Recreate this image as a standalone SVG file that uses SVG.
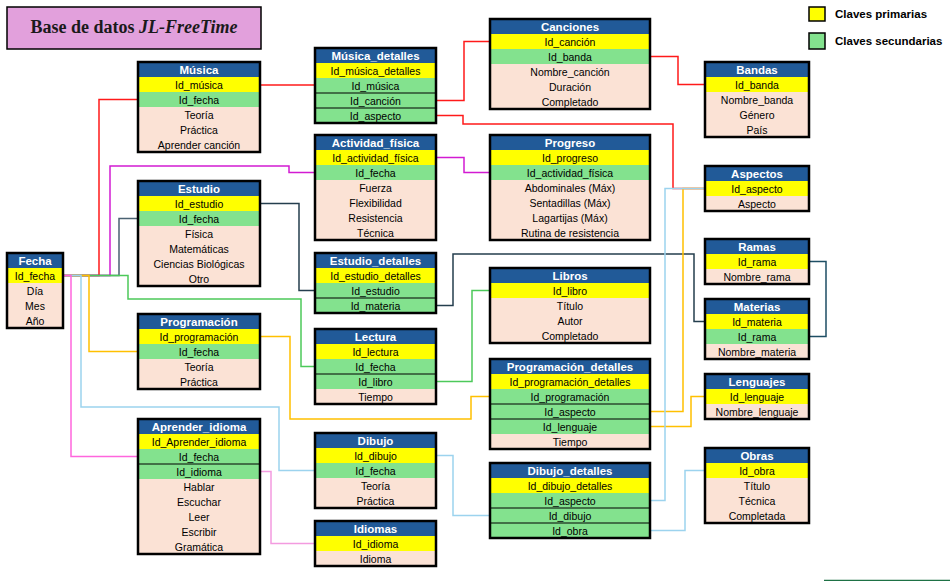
<svg xmlns="http://www.w3.org/2000/svg" width="952" height="581" viewBox="0 0 952 581">
<style>
.hd{fill:#215A98}
.pk{fill:#FFFF00}
.fk{fill:#83E28E}
.at{fill:#FBE2D5}
.fr{fill:none;stroke:#000;stroke-width:2.5}
.sep{stroke:#000;stroke-width:1}
.th{font-family:"Liberation Sans",Arial,sans-serif;font-weight:bold;font-size:11.5px;fill:#fff;text-anchor:middle}
.t{font-family:"Liberation Sans",Arial,sans-serif;font-size:10.5px;fill:#000;text-anchor:middle}
.lg{font-family:"Liberation Sans",Arial,sans-serif;font-weight:bold;font-size:11.5px;fill:#000}
.c{fill:none;stroke-width:1.5}
.red{stroke:#FF1A1A}
.mag{stroke:#D21BD2}
.sl{stroke:#4A6272}
.dsl{stroke:#243E4E}
.grn{stroke:#4CC95A}
.gold{stroke:#FFC000}
.lb{stroke:#9CD3EE}
.pink{stroke:#FF66DD}
.lpink{stroke:#F39BE0}
.teal{stroke:#1E4E64}
</style>
<rect x="0" y="0" width="952" height="581" fill="#fff"/>
<g id="title">
<rect x="7" y="7" width="254" height="42" fill="#E2A0DC" stroke="#000" stroke-width="1.5"/>
<text x="134" y="33" font-family="'Liberation Serif','Times New Roman',serif" font-weight="bold" font-size="18" text-anchor="middle" fill="#1a1a1a">Base de datos <tspan font-style="italic">JL-FreeTime</tspan></text>
</g>
<g id="legend">
<rect x="809" y="7" width="16" height="14" fill="#FFFF00" stroke="#000" stroke-width="1.5"/>
<text class="lg" x="835" y="17.5">Claves primarias</text>
<rect x="809" y="33" width="16" height="16" fill="#83E28E" stroke="#000" stroke-width="1.5"/>
<text class="lg" x="835" y="44.5">Claves secundarias</text>
</g>
<g id="connectors">
<path class="c red" d="M260,85 H315"/>
<path class="c red" d="M63,275.5 H99 V99.5 H138"/>
<path class="c mag" d="M63,275.5 H110 V166 H289 V172.5 H315"/>
<path class="c sl" d="M63,275.5 H119 V218.5 H138"/>
<path class="c grn" d="M63,275.5 H128 V299 H301 V366.5 H315"/>
<path class="c gold" d="M63,275.5 H89 V351.5 H138"/>
<path class="c lb" d="M63,275.5 H81 V407 H279 V470.5 H315"/>
<path class="c pink" d="M63,275.5 H71 V456.5 H138"/>
<path class="c lpink" d="M260,471.5 H271 V543.5 H315"/>
<path class="c red" d="M436,100.5 H464 V41.5 H490"/>
<path class="c red" d="M436,115.5 H463 V124 H673 V188.5 H705"/>
<path class="c red" d="M650,56.5 H678 V84.5 H705"/>
<path class="c mag" d="M436,157.5 H464 V172.5 H490"/>
<path class="c dsl" d="M260,203.5 H299 V290.5 H315"/>
<path class="c dsl" d="M436,305.5 H453 V254 H694 V321.5 H705"/>
<path class="c teal" d="M809,261.5 H826 V336.5 H809"/>
<path class="c grn" d="M436,381.5 H472 V290.5 H490"/>
<path class="c gold" d="M260,336.5 H290 V419 H471 V396.5 H490"/>
<path class="c gold" d="M650,426.5 H691 V396.5 H705"/>
<path class="c gold" d="M650,411.5 H683 V188.5 H705"/>
<path class="c lb" d="M650,500.5 H665 V188.5 H705"/>
<path class="c lb" d="M436,455.5 H453 V515.5 H490"/>
<path class="c lb" d="M650,530.5 H685 V470.5 H705"/>
<path d="M824,580.5 H950" stroke="#1E7145" stroke-width="1.5"/>
</g>
<g id="musica">
<rect class="hd" x="138" y="62" width="122" height="15"/>
<rect class="pk" x="138" y="77" width="122" height="15"/>
<rect class="fk" x="138" y="92" width="122" height="15"/>
<rect class="at" x="138" y="107" width="122" height="45"/>
<rect class="fr" x="138" y="62" width="122" height="90"/>
<text class="th" x="199" y="73.5">Música</text>
<text class="t" x="199" y="88.5">Id_música</text>
<text class="t" x="199" y="103.5">Id_fecha</text>
<text class="t" x="199" y="118.5">Teoría</text>
<text class="t" x="199" y="133.5">Práctica</text>
<text class="t" x="199" y="148.5">Aprender canción</text>
</g>
<g id="musica_detalles">
<rect class="hd" x="315" y="48" width="121" height="15"/>
<rect class="pk" x="315" y="63" width="121" height="15"/>
<rect class="fk" x="315" y="78" width="121" height="45"/>
<line class="sep" x1="315" y1="93" x2="436" y2="93"/>
<line class="sep" x1="315" y1="108" x2="436" y2="108"/>
<rect class="fr" x="315" y="48" width="121" height="75"/>
<text class="th" x="375.5" y="59.5">Música_detalles</text>
<text class="t" x="375.5" y="74.5">Id_música_detalles</text>
<text class="t" x="375.5" y="89.5">Id_música</text>
<text class="t" x="375.5" y="104.5">Id_canción</text>
<text class="t" x="375.5" y="119.5">Id_aspecto</text>
</g>
<g id="canciones">
<rect class="hd" x="490" y="19" width="160" height="15"/>
<rect class="pk" x="490" y="34" width="160" height="15"/>
<rect class="fk" x="490" y="49" width="160" height="15"/>
<rect class="at" x="490" y="64" width="160" height="45"/>
<rect class="fr" x="490" y="19" width="160" height="90"/>
<text class="th" x="570" y="30.5">Canciones</text>
<text class="t" x="570" y="45.5">Id_canción</text>
<text class="t" x="570" y="60.5">Id_banda</text>
<text class="t" x="570" y="75.5">Nombre_canción</text>
<text class="t" x="570" y="90.5">Duración</text>
<text class="t" x="570" y="105.5">Completado</text>
</g>
<g id="bandas">
<rect class="hd" x="705" y="62" width="104" height="15"/>
<rect class="pk" x="705" y="77" width="104" height="15"/>
<rect class="at" x="705" y="92" width="104" height="45"/>
<rect class="fr" x="705" y="62" width="104" height="75"/>
<text class="th" x="757" y="73.5">Bandas</text>
<text class="t" x="757" y="88.5">Id_banda</text>
<text class="t" x="757" y="103.5">Nombre_banda</text>
<text class="t" x="757" y="118.5">Género</text>
<text class="t" x="757" y="133.5">País</text>
</g>
<g id="aspectos">
<rect class="hd" x="705" y="166" width="104" height="15"/>
<rect class="pk" x="705" y="181" width="104" height="15"/>
<rect class="at" x="705" y="196" width="104" height="15"/>
<rect class="fr" x="705" y="166" width="104" height="45"/>
<text class="th" x="757" y="177.5">Aspectos</text>
<text class="t" x="757" y="192.5">Id_aspecto</text>
<text class="t" x="757" y="207.5">Aspecto</text>
</g>
<g id="actividad_fisica">
<rect class="hd" x="315" y="135" width="121" height="15"/>
<rect class="pk" x="315" y="150" width="121" height="15"/>
<rect class="fk" x="315" y="165" width="121" height="15"/>
<rect class="at" x="315" y="180" width="121" height="60"/>
<rect class="fr" x="315" y="135" width="121" height="105"/>
<text class="th" x="375.5" y="146.5">Actividad_física</text>
<text class="t" x="375.5" y="161.5">Id_actividad_física</text>
<text class="t" x="375.5" y="176.5">Id_fecha</text>
<text class="t" x="375.5" y="191.5">Fuerza</text>
<text class="t" x="375.5" y="206.5">Flexibilidad</text>
<text class="t" x="375.5" y="221.5">Resistencia</text>
<text class="t" x="375.5" y="236.5">Técnica</text>
</g>
<g id="progreso">
<rect class="hd" x="490" y="135" width="160" height="15"/>
<rect class="pk" x="490" y="150" width="160" height="15"/>
<rect class="fk" x="490" y="165" width="160" height="15"/>
<rect class="at" x="490" y="180" width="160" height="60"/>
<rect class="fr" x="490" y="135" width="160" height="105"/>
<text class="th" x="570" y="146.5">Progreso</text>
<text class="t" x="570" y="161.5">Id_progreso</text>
<text class="t" x="570" y="176.5">Id_actividad_física</text>
<text class="t" x="570" y="191.5">Abdominales (Máx)</text>
<text class="t" x="570" y="206.5">Sentadillas (Máx)</text>
<text class="t" x="570" y="221.5">Lagartijas (Máx)</text>
<text class="t" x="570" y="236.5">Rutina de resistencia</text>
</g>
<g id="estudio">
<rect class="hd" x="138" y="181" width="122" height="15"/>
<rect class="pk" x="138" y="196" width="122" height="15"/>
<rect class="fk" x="138" y="211" width="122" height="15"/>
<rect class="at" x="138" y="226" width="122" height="60"/>
<rect class="fr" x="138" y="181" width="122" height="105"/>
<text class="th" x="199" y="192.5">Estudio</text>
<text class="t" x="199" y="207.5">Id_estudio</text>
<text class="t" x="199" y="222.5">Id_fecha</text>
<text class="t" x="199" y="237.5">Física</text>
<text class="t" x="199" y="252.5">Matemáticas</text>
<text class="t" x="199" y="267.5">Ciencias Biológicas</text>
<text class="t" x="199" y="282.5">Otro</text>
</g>
<g id="fecha">
<rect class="hd" x="7" y="253" width="56" height="15"/>
<rect class="pk" x="7" y="268" width="56" height="15"/>
<rect class="at" x="7" y="283" width="56" height="45"/>
<rect class="fr" x="7" y="253" width="56" height="75"/>
<text class="th" x="35" y="264.5">Fecha</text>
<text class="t" x="35" y="279.5">Id_fecha</text>
<text class="t" x="35" y="294.5">Día</text>
<text class="t" x="35" y="309.5">Mes</text>
<text class="t" x="35" y="324.5">Año</text>
</g>
<g id="estudio_detalles">
<rect class="hd" x="315" y="253" width="121" height="15"/>
<rect class="pk" x="315" y="268" width="121" height="15"/>
<rect class="fk" x="315" y="283" width="121" height="30"/>
<line class="sep" x1="315" y1="298" x2="436" y2="298"/>
<rect class="fr" x="315" y="253" width="121" height="60"/>
<text class="th" x="375.5" y="264.5">Estudio_detalles</text>
<text class="t" x="375.5" y="279.5">Id_estudio_detalles</text>
<text class="t" x="375.5" y="294.5">Id_estudio</text>
<text class="t" x="375.5" y="309.5">Id_materia</text>
</g>
<g id="libros">
<rect class="hd" x="490" y="268" width="160" height="15"/>
<rect class="pk" x="490" y="283" width="160" height="15"/>
<rect class="at" x="490" y="298" width="160" height="45"/>
<rect class="fr" x="490" y="268" width="160" height="75"/>
<text class="th" x="570" y="279.5">Libros</text>
<text class="t" x="570" y="294.5">Id_libro</text>
<text class="t" x="570" y="309.5">Título</text>
<text class="t" x="570" y="324.5">Autor</text>
<text class="t" x="570" y="339.5">Completado</text>
</g>
<g id="ramas">
<rect class="hd" x="705" y="239" width="104" height="15"/>
<rect class="pk" x="705" y="254" width="104" height="15"/>
<rect class="at" x="705" y="269" width="104" height="15"/>
<rect class="fr" x="705" y="239" width="104" height="45"/>
<text class="th" x="757" y="250.5">Ramas</text>
<text class="t" x="757" y="265.5">Id_rama</text>
<text class="t" x="757" y="280.5">Nombre_rama</text>
</g>
<g id="materias">
<rect class="hd" x="705" y="299" width="104" height="15"/>
<rect class="pk" x="705" y="314" width="104" height="15"/>
<rect class="fk" x="705" y="329" width="104" height="15"/>
<rect class="at" x="705" y="344" width="104" height="15"/>
<rect class="fr" x="705" y="299" width="104" height="60"/>
<text class="th" x="757" y="310.5">Materias</text>
<text class="t" x="757" y="325.5">Id_materia</text>
<text class="t" x="757" y="340.5">Id_rama</text>
<text class="t" x="757" y="355.5">Nombre_materia</text>
</g>
<g id="programacion">
<rect class="hd" x="138" y="314" width="122" height="15"/>
<rect class="pk" x="138" y="329" width="122" height="15"/>
<rect class="fk" x="138" y="344" width="122" height="15"/>
<rect class="at" x="138" y="359" width="122" height="30"/>
<rect class="fr" x="138" y="314" width="122" height="75"/>
<text class="th" x="199" y="325.5">Programación</text>
<text class="t" x="199" y="340.5">Id_programación</text>
<text class="t" x="199" y="355.5">Id_fecha</text>
<text class="t" x="199" y="370.5">Teoría</text>
<text class="t" x="199" y="385.5">Práctica</text>
</g>
<g id="lectura">
<rect class="hd" x="315" y="329" width="121" height="15"/>
<rect class="pk" x="315" y="344" width="121" height="15"/>
<rect class="fk" x="315" y="359" width="121" height="30"/>
<line class="sep" x1="315" y1="374" x2="436" y2="374"/>
<rect class="at" x="315" y="389" width="121" height="15"/>
<rect class="fr" x="315" y="329" width="121" height="75"/>
<text class="th" x="375.5" y="340.5">Lectura</text>
<text class="t" x="375.5" y="355.5">Id_lectura</text>
<text class="t" x="375.5" y="370.5">Id_fecha</text>
<text class="t" x="375.5" y="385.5">Id_libro</text>
<text class="t" x="375.5" y="400.5">Tiempo</text>
</g>
<g id="programacion_detalles">
<rect class="hd" x="490" y="359" width="160" height="15"/>
<rect class="pk" x="490" y="374" width="160" height="15"/>
<rect class="fk" x="490" y="389" width="160" height="45"/>
<line class="sep" x1="490" y1="404" x2="650" y2="404"/>
<line class="sep" x1="490" y1="419" x2="650" y2="419"/>
<rect class="at" x="490" y="434" width="160" height="15"/>
<rect class="fr" x="490" y="359" width="160" height="90"/>
<text class="th" x="570" y="370.5">Programación_detalles</text>
<text class="t" x="570" y="385.5">Id_programación_detalles</text>
<text class="t" x="570" y="400.5">Id_programación</text>
<text class="t" x="570" y="415.5">Id_aspecto</text>
<text class="t" x="570" y="430.5">Id_lenguaje</text>
<text class="t" x="570" y="445.5">Tiempo</text>
</g>
<g id="lenguajes">
<rect class="hd" x="705" y="374" width="104" height="15"/>
<rect class="pk" x="705" y="389" width="104" height="15"/>
<rect class="at" x="705" y="404" width="104" height="15"/>
<rect class="fr" x="705" y="374" width="104" height="45"/>
<text class="th" x="757" y="385.5">Lenguajes</text>
<text class="t" x="757" y="400.5">Id_lenguaje</text>
<text class="t" x="757" y="415.5">Nombre_lenguaje</text>
</g>
<g id="aprender_idioma">
<rect class="hd" x="138" y="419" width="122" height="15"/>
<rect class="pk" x="138" y="434" width="122" height="15"/>
<rect class="fk" x="138" y="449" width="122" height="30"/>
<line class="sep" x1="138" y1="464" x2="260" y2="464"/>
<rect class="at" x="138" y="479" width="122" height="75"/>
<rect class="fr" x="138" y="419" width="122" height="135"/>
<text class="th" x="199" y="430.5">Aprender_idioma</text>
<text class="t" x="199" y="445.5">Id_Aprender_idioma</text>
<text class="t" x="199" y="460.5">Id_fecha</text>
<text class="t" x="199" y="475.5">Id_idioma</text>
<text class="t" x="199" y="490.5">Hablar</text>
<text class="t" x="199" y="505.5">Escuchar</text>
<text class="t" x="199" y="520.5">Leer</text>
<text class="t" x="199" y="535.5">Escribir</text>
<text class="t" x="199" y="550.5">Gramática</text>
</g>
<g id="dibujo">
<rect class="hd" x="315" y="433" width="121" height="15"/>
<rect class="pk" x="315" y="448" width="121" height="15"/>
<rect class="fk" x="315" y="463" width="121" height="15"/>
<rect class="at" x="315" y="478" width="121" height="30"/>
<rect class="fr" x="315" y="433" width="121" height="75"/>
<text class="th" x="375.5" y="444.5">Dibujo</text>
<text class="t" x="375.5" y="459.5">Id_dibujo</text>
<text class="t" x="375.5" y="474.5">Id_fecha</text>
<text class="t" x="375.5" y="489.5">Teoría</text>
<text class="t" x="375.5" y="504.5">Práctica</text>
</g>
<g id="dibujo_detalles">
<rect class="hd" x="490" y="463" width="160" height="15"/>
<rect class="pk" x="490" y="478" width="160" height="15"/>
<rect class="fk" x="490" y="493" width="160" height="45"/>
<line class="sep" x1="490" y1="508" x2="650" y2="508"/>
<line class="sep" x1="490" y1="523" x2="650" y2="523"/>
<rect class="fr" x="490" y="463" width="160" height="75"/>
<text class="th" x="570" y="474.5">Dibujo_detalles</text>
<text class="t" x="570" y="489.5">Id_dibujo_detalles</text>
<text class="t" x="570" y="504.5">Id_aspecto</text>
<text class="t" x="570" y="519.5">Id_dibujo</text>
<text class="t" x="570" y="534.5">Id_obra</text>
</g>
<g id="obras">
<rect class="hd" x="705" y="448" width="104" height="15"/>
<rect class="pk" x="705" y="463" width="104" height="15"/>
<rect class="at" x="705" y="478" width="104" height="45"/>
<rect class="fr" x="705" y="448" width="104" height="75"/>
<text class="th" x="757" y="459.5">Obras</text>
<text class="t" x="757" y="474.5">Id_obra</text>
<text class="t" x="757" y="489.5">Título</text>
<text class="t" x="757" y="504.5">Técnica</text>
<text class="t" x="757" y="519.5">Completada</text>
</g>
<g id="idiomas">
<rect class="hd" x="315" y="521" width="121" height="15"/>
<rect class="pk" x="315" y="536" width="121" height="15"/>
<rect class="at" x="315" y="551" width="121" height="15"/>
<rect class="fr" x="315" y="521" width="121" height="45"/>
<text class="th" x="375.5" y="532.5">Idiomas</text>
<text class="t" x="375.5" y="547.5">Id_idioma</text>
<text class="t" x="375.5" y="562.5">Idioma</text>
</g>
</svg>
